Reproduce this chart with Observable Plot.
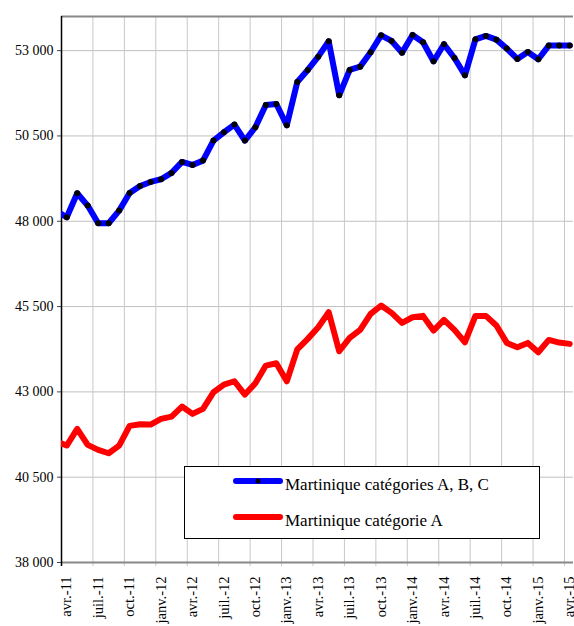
<!DOCTYPE html>
<html><head><meta charset="utf-8">
<script src="https://cdn.jsdelivr.net/npm/d3@7"></script>
<script src="https://cdn.jsdelivr.net/npm/@observablehq/plot@0.6"></script>
<style>
body{margin:0;background:#fff;overflow:hidden}
#wrap{position:relative;width:574px;height:626px;overflow:hidden}
#legend{position:absolute;left:0;top:0}
</style></head><body><div id="wrap"></div>
<script>
// Tick labels (one every 3 months, starting avr.-11)
const tickLabels = ["avr.-11","juil.-11","oct.-11","janv.-12","avr.-12","juil.-12","oct.-12","janv.-13","avr.-13","juil.-13","oct.-13","janv.-14","avr.-14","juil.-14","oct.-14","janv.-15","avr.-15"];
const yTicks = [38000, 40500, 43000, 45500, 48000, 50500, 53000];
const seriesNames = ["Martinique catégories A, B, C", "Martinique catégorie A"];
// Monthly values from mars-11 to avr.-15
const allCategories = [48300, 48116, 48820, 48459, 47941, 47941, 48312, 48830, 49035, 49152, 49230, 49416, 49738, 49650, 49777, 50363, 50607, 50832, 50363, 50754, 51408, 51437, 50812, 52082, 52434, 52824, 53273, 51691, 52434, 52531, 52951, 53449, 53283, 52941, 53459, 53244, 52687, 53186, 52785, 52277, 53332, 53430, 53322, 53059, 52756, 52961, 52746, 53147, 53147, 53147];
const categorieA = [41550, 41427, 41916, 41447, 41301, 41201, 41427, 42004, 42051, 42042, 42209, 42276, 42569, 42355, 42502, 42988, 43214, 43311, 42921, 43252, 43771, 43838, 43311, 44245, 44553, 44894, 45334, 44191, 44582, 44816, 45285, 45529, 45315, 45021, 45187, 45227, 44797, 45109, 44816, 44455, 45227, 45227, 44943, 44435, 44308, 44435, 44162, 44523, 44445, 44406];

const toRows = vals => vals.map((v, i) => ({x: i - 0.5, y: v}));
const gridTicks = d3.range(0, 49, 3);
const labelTicks = gridTicks.map(t => t + 0.5);
const fmt = d => d3.format(",")(d).replace(/,/g, " ");
const serif = "'Liberation Serif', 'Times New Roman', serif";

const chart = Plot.plot({
  width: 574, height: 626,
  marginLeft: 61, marginRight: 1, marginTop: 16, marginBottom: 64,
  style: {fontFamily: serif, background: "#fff", color: "#000"},
  x: {type: "linear", domain: [0, 48.86], label: null},
  y: {domain: [38000, 54000], label: null},
  marks: [
    Plot.gridY(yTicks, {stroke: "#c0c0c0", strokeOpacity: 1, strokeWidth: 1}),
    Plot.ruleX(gridTicks, {stroke: "#c8c8c8", strokeWidth: 1, insetBottom: -4}),
    Plot.ruleY([54000], {stroke: "#888", strokeWidth: 2}),
    Plot.ruleY([38000], {stroke: "#888", strokeWidth: 2}),
    Plot.ruleX([0], {stroke: "#000", strokeWidth: 1.5, insetBottom: -4}),
    Plot.axisY(yTicks, {tickSize: 4, tickPadding: 4, tickFormat: fmt, fontSize: 14, stroke: "#444"}),
    Plot.axisX(labelTicks, {tickSize: 0, tickPadding: 14, tickRotate: -90, tickFormat: d => tickLabels[Math.round((d - 0.5) / 3)], fontSize: 14.5}),
    Plot.line(toRows(categorieA), {x: "x", y: "y", stroke: "#ff0000", strokeWidth: 6, strokeLinejoin: "round", clip: true}),
    Plot.line(toRows(allCategories), {x: "x", y: "y", stroke: "#0000ff", strokeWidth: 6, strokeLinejoin: "round", clip: true}),
    Plot.dot(toRows(allCategories), {x: "x", y: "y", r: 3, fill: "#000", stroke: "none", clip: true})
  ]
});
const wrap = document.getElementById("wrap");
wrap.appendChild(chart);

// Legend box inside the plot area
const leg = d3.select(wrap).append("svg").attr("id", "legend")
  .attr("width", 574).attr("height", 626).style("pointer-events", "none");
leg.append("rect").attr("x", 184.5).attr("y", 466.5).attr("width", 355).attr("height", 72)
  .attr("fill", "#fff").attr("stroke", "#000").attr("stroke-width", 1);
const legColors = ["#0000ff", "#ff0000"];
seriesNames.forEach((name, k) => {
  const cy = 481 + k * 36;
  leg.append("line").attr("x1", 236).attr("x2", 280).attr("y1", cy).attr("y2", cy)
    .attr("stroke", legColors[k]).attr("stroke-width", 6).attr("stroke-linecap", "round");
  if (k === 0) {
    leg.append("circle").attr("cx", 258).attr("cy", cy).attr("r", 2.5).attr("fill", "#000");
  }
  leg.append("text").attr("x", 285).attr("y", cy + 8.5).attr("font-family", serif)
    .attr("font-size", 17).attr("fill", "#000").text(name);
});
</script></body></html>
